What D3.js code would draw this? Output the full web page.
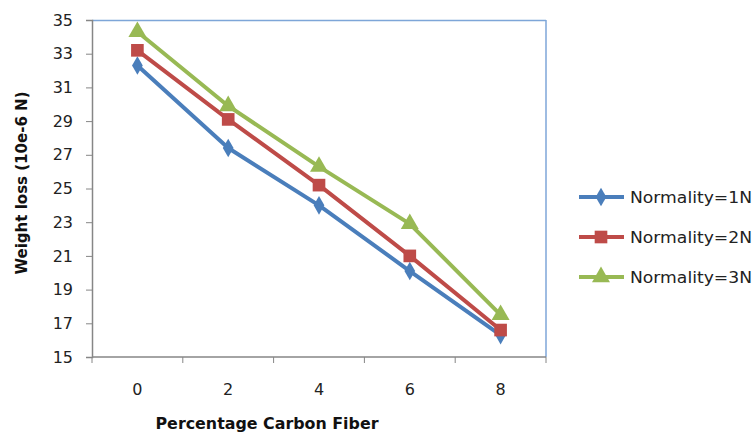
<!DOCTYPE html>
<html><head><meta charset="utf-8">
<script src="https://cdn.jsdelivr.net/npm/d3@7"></script>
<style>body{margin:0;background:#fff}svg{display:block}text{font-family:"DejaVu Sans",sans-serif}</style>
</head><body><svg width="755" height="434"></svg>
<script>
const categories = ["0","2","4","6","8"];
const seriesNames = ["Normality=1N","Normality=2N","Normality=3N"];
const n1 = [32.3, 27.4, 24.0, 20.1, 16.3];
const n2 = [33.2, 29.1, 25.2, 21.0, 16.6];
const n3 = [34.3, 29.9, 26.3, 22.9, 17.5];
const yTicks = [15,17,19,21,23,25,27,29,31,33,35];
const colors = ["#4a7ebb","#be4b48","#98b954"];
const symbols = [d3.symbolDiamond, d3.symbolSquare, d3.symbolTriangle];
const symSizes = [100, 160, 140];
const series = [n1,n2,n3];

const svg = d3.select("svg");
const L=92, R=546, T=20, B=357;
const x = d3.scaleBand().domain(categories).range([L,R]);
const y = d3.scaleLinear().domain([15,35]).range([B,T]);

// plot border top/right
svg.append("line").attr("x1",L).attr("x2",R).attr("y1",T+0.5).attr("y2",T+0.5).attr("stroke","#7ea6d8").attr("stroke-width",1.5);
svg.append("line").attr("x1",R).attr("x2",R).attr("y1",T).attr("y2",B).attr("stroke","#7ea6d8").attr("stroke-width",1.5);

const yAxis = svg.append("g").attr("transform",`translate(${L},0)`)
  .call(d3.axisLeft(y).tickValues(yTicks).tickSize(6).tickPadding(13));
const xAxis = svg.append("g").attr("transform",`translate(0,${B})`)
  .call(d3.axisBottom(x).tickSize(0).tickPadding(27));
const bounds = categories.map(c=>x(c)).concat([R]);
xAxis.selectAll(".bt").data(bounds).enter().append("line")
  .attr("x1",d=>d).attr("x2",d=>d).attr("y1",0).attr("y2",6).attr("stroke","#868686");
[yAxis,xAxis].forEach(a=>{
  a.select(".domain").attr("stroke","#868686").attr("stroke-width",1.5);
  a.selectAll(".tick line").attr("stroke","#868686");
  a.selectAll("text").attr("font-size",16).attr("fill","#222").attr("font-family","'DejaVu Sans',sans-serif");
});
xAxis.select(".domain").attr("d",`M${L},0H${R}`);

const line = d3.line().x((d,i)=>x(categories[i])+x.bandwidth()/2).y(d=>y(d));
series.forEach((s,k)=>{
  svg.append("path").attr("d",line(s)).attr("fill","none").attr("stroke",colors[k]).attr("stroke-width",4).attr("stroke-linejoin","round");
  svg.selectAll(null).data(s).enter().append("path")
    .attr("d",d3.symbol().type(symbols[k]).size(symSizes[k]))
    .attr("transform",(d,i)=>`translate(${x(categories[i])+x.bandwidth()/2},${y(d)})`)
    .attr("fill",colors[k]);
});

// axis titles
svg.append("text").attr("transform","translate(27,183) rotate(-90)").attr("text-anchor","middle")
  .attr("font-size",15).attr("font-weight","bold").attr("fill","#111")
  .attr("textLength",183).attr("lengthAdjust","spacingAndGlyphs").text("Weight loss  (10e-6 N)");
svg.append("text").attr("x",267).attr("y",429).attr("text-anchor","middle")
  .attr("font-size",16).attr("font-weight","bold").attr("fill","#111")
  .attr("textLength",223).attr("lengthAdjust","spacingAndGlyphs").text("Percentage Carbon Fiber");

// legend
const lg = svg.append("g");
seriesNames.forEach((nm,k)=>{
  const yy = 197 + k*40;
  lg.append("line").attr("x1",579).attr("x2",624).attr("y1",yy).attr("y2",yy).attr("stroke",colors[k]).attr("stroke-width",4);
  lg.append("path").attr("d",d3.symbol().type(symbols[k]).size(symSizes[k])()).attr("transform",`translate(601,${yy})`).attr("fill",colors[k]);
  lg.append("text").attr("x",630).attr("y",yy+6).attr("font-size",16).attr("fill","#222")
    .attr("textLength",122).attr("lengthAdjust","spacingAndGlyphs").text(nm);
});
</script></body></html>
